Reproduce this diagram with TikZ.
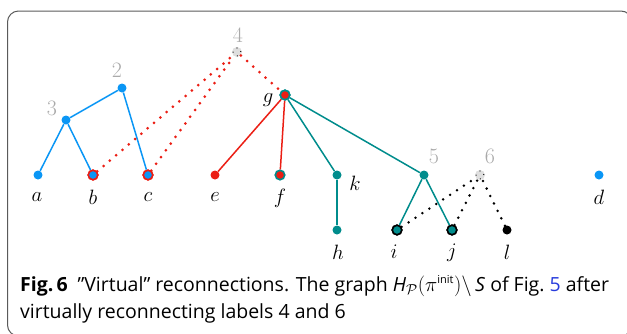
\documentclass[tikz,border=0pt]{standalone}
\usepackage{fontspec}
\setsansfont{Open Sans}
\definecolor{tblue}{RGB}{10,150,245}
\definecolor{tred}{RGB}{235,30,20}
\definecolor{tteal}{RGB}{0,140,140}
\definecolor{tgrey}{RGB}{170,170,170}
\definecolor{frame}{RGB}{90,90,90}
\definecolor{linkblue}{RGB}{40,60,220}
\tikzset{
  dotnode/.style={circle,inner sep=0pt,minimum size=9pt,fill=#1},
  ringnode/.style={circle,inner sep=0pt,minimum size=9.5pt,fill=#1,draw,line width=1.6pt},
  virt/.style={circle,inner sep=0pt,minimum size=10pt,fill=black!13},
  virtb/.style={circle,inner sep=0pt,minimum size=8pt,draw=black,line width=1.2pt,dash pattern=on 0pt off 6.3pt,line cap=round},
  lbl/.style={font=\fontsize{21}{21}\selectfont\itshape,inner sep=0pt},
  num/.style={font=\fontsize{22}{22}\selectfont,text=tgrey,inner sep=0pt},
  edge/.style={line width=1.5pt,draw=#1},
  reddots/.style={draw=tred,line width=3pt,line cap=round,dash pattern=on 0pt off 8.3pt},
  blackdots/.style={draw=black,line width=2.8pt,line cap=round,dash pattern=on 0pt off 8.3pt},
  captxt/.style={anchor=west,inner sep=0pt,font=\sffamily\fontsize{19.5}{26}\selectfont},
}
\begin{document}
\begin{tikzpicture}[x=1pt,y=-1pt]
\useasboundingbox (0,0) rectangle (627,333);
\begin{scope}
\clip (0,0) rectangle (627,333);
\draw[frame,line width=1pt,rounded corners=11pt] (7.5,11) rectangle (632,336);
\end{scope}
% nodes
\node[virt] (n4) at (237,52) {};
\node[dotnode=tblue] (n2) at (122,88) {};
\node[dotnode=tblue] (n3) at (66,120) {};
\node[dotnode=tblue] (a) at (38,175) {};
\node[ringnode=tblue,draw=tred] (b) at (93,175) {};
\node[ringnode=tblue,draw=tred] (c) at (148,175) {};
\node[dotnode=tred] (e) at (215,175) {};
\node[ringnode=tred,draw=tteal] (f) at (280,175) {};
\node[ringnode=tred,draw=tteal] (g) at (285,95) {};
\node[dotnode=tteal] (k) at (337,175) {};
\node[dotnode=tteal] (h) at (337,230) {};
\node[dotnode=tteal] (n5) at (424,175) {};
\node[virt] (n6) at (480,175) {};
\node[ringnode=tteal,draw=black] (i) at (397,230) {};
\node[ringnode=tteal,draw=black] (j) at (452,230) {};
\node[dotnode=black] (l) at (507,230) {};
\node[dotnode=tblue] (d) at (599,175) {};
\node[virtb,rotate=90] (n4b) at (n4) {};
\node[virtb,rotate=90] (n6b) at (n6) {};
% edges
\draw[edge=tblue] (n3) -- (a);
\draw[edge=tblue] (n3) -- (b);
\draw[edge=tblue] (n3) -- (n2);
\draw[edge=tblue] (n2) -- (c);
\draw[edge=tred] (g) -- (e);
\draw[edge=tred] (g) -- (f);
\draw[edge=tteal] (g) -- (k);
\draw[edge=tteal] (g) -- (n5);
\draw[edge=tteal] (k) -- (h);
\draw[edge=tteal] (n5) -- (i);
\draw[edge=tteal] (n5) -- (j);
\draw[reddots] (b) -- (n4);
\draw[reddots] (c) -- (n4);
\draw[reddots] (n4) -- (g);
\draw[blackdots] (i) -- (n6);
\draw[blackdots] (j) -- (n6);
\draw[blackdots] (l) -- (n6);
% redraw nodes on top
\node[ringnode=tred,draw=tteal] at (g) {};
\node[ringnode=tblue,draw=tred] at (b) {};
\node[ringnode=tblue,draw=tred] at (c) {};
\node[ringnode=tteal,draw=black] at (i) {};
\node[ringnode=tteal,draw=black] at (j) {};
% labels
\node[num] (l4) at (238,35) {4};
\node[num] (l2) at (117,70) {2};
\node[num] (l3) at (52,108) {3};
\node[num] (l5) at (434,156) {5};
\node[num] (l6) at (490,156) {6};
\node[lbl] (la) at (37,197) {$a$};
\node[lbl] (lb) at (93,197) {$b$};
\node[lbl] (lc) at (148,197) {$c$};
\node[lbl] (le) at (215,197) {$e$};
\node[lbl] (lf) at (280,198) {$f$};
\node[lbl] (lg) at (268,100) {$g$};
\node[lbl] (lk) at (355,183) {$k$};
\node[lbl] (lh) at (338,252) {$h$};
\node[lbl] (li) at (394,252) {$i$};
\node[lbl] (lj) at (452,253) {$j$};
\node[lbl] (ll) at (507,252) {$l$};
\node[lbl] (ld) at (599,197) {$d$};
% caption
\node[captxt] (cap1) at (20,286)
  {\textbf{Fig.\,6}\hspace{0.5em}”Virtual” reconnections. The graph \textit{H}$_{\mathcal P}(\pi^{\hbox{\sffamily\fontsize{11}{11}\selectfont init}})\setminus$\,\textit{S} of Fig.~\textcolor{linkblue}{5} after};
\node[captxt] (cap2) at (20,313)
  {virtually reconnecting labels 4 and 6};
\end{tikzpicture}
\end{document}
